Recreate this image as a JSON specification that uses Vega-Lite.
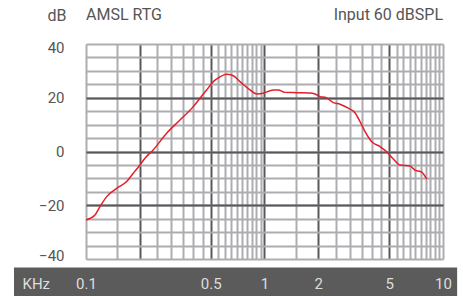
{
  "$schema": "https://vega.github.io/schema/vega-lite/v6.json",
  "width": 357,
  "height": 215,
  "autosize": "none",
  "padding": {"left": 86, "top": 44, "right": 20, "bottom": 37},
  "background": "white",
  "config": {"view": {"stroke": null}, "font": "Roboto"},
  "datasets": {
    "curve": [
      {"f": 0.1, "db": -25.5},
      {"f": 0.1123, "db": -23.6},
      {"f": 0.1198, "db": -20.5},
      {"f": 0.1306, "db": -16.8},
      {"f": 0.1486, "db": -13.7},
      {"f": 0.169, "db": -11.2},
      {"f": 0.184, "db": -8.1},
      {"f": 0.2007, "db": -5.0},
      {"f": 0.214, "db": -2.5},
      {"f": 0.238, "db": 0.6},
      {"f": 0.283, "db": 6.8},
      {"f": 0.336, "db": 11.7},
      {"f": 0.399, "db": 16.7},
      {"f": 0.435, "db": 19.8},
      {"f": 0.474, "db": 22.9},
      {"f": 0.517, "db": 26.0},
      {"f": 0.563, "db": 27.8},
      {"f": 0.614, "db": 28.7},
      {"f": 0.655, "db": 28.5},
      {"f": 0.729, "db": 26.0},
      {"f": 0.8295, "db": 22.9},
      {"f": 0.904, "db": 21.4},
      {"f": 0.985, "db": 21.7},
      {"f": 1.12, "db": 22.9},
      {"f": 1.195, "db": 22.9},
      {"f": 1.3, "db": 22.0},
      {"f": 1.514, "db": 21.9},
      {"f": 1.798, "db": 21.8},
      {"f": 1.919, "db": 21.4},
      {"f": 2.047, "db": 20.4},
      {"f": 2.183, "db": 20.2},
      {"f": 2.43, "db": 18.2},
      {"f": 2.65, "db": 17.6},
      {"f": 2.948, "db": 16.1},
      {"f": 3.21, "db": 14.4},
      {"f": 3.43, "db": 11.1},
      {"f": 3.66, "db": 7.4},
      {"f": 3.99, "db": 3.6},
      {"f": 4.44, "db": 1.8},
      {"f": 4.84, "db": -0.1},
      {"f": 5.27, "db": -2.8},
      {"f": 5.74, "db": -5.0},
      {"f": 6.53, "db": -5.4},
      {"f": 6.97, "db": -6.9},
      {"f": 7.6, "db": -7.7},
      {"f": 8.11, "db": -10.3}
    ]
  },
  "layer": [
    {
      "data": {"name": "curve"},
      "mark": {"type": "line", "opacity": 0},
      "encoding": {
        "x": {"field": "f", "type": "quantitative",
          "scale": {"type": "log", "domain": [0.1, 10], "nice": false},
          "axis": {"orient": "bottom", "values": [0.1, 0.15, 0.25, 0.3, 0.35, 0.4, 0.45, 0.55, 0.6, 0.65, 0.7, 0.75, 0.8, 0.85, 0.9, 0.95, 1.5, 2.5, 3, 3.5, 4, 4.5, 5.5, 6, 6.5, 7, 7.5, 8, 8.5, 9, 9.5, 10],
            "grid": true, "gridColor": "#adadb1", "gridWidth": 2, "gridOpacity": 1,
            "domain": false, "ticks": false, "labels": false, "title": null}},
        "y": {"field": "db", "type": "quantitative",
          "scale": {"domain": [-40, 40], "nice": false, "zero": false},
          "axis": {"orient": "left", "values": [-40, -35, -30, -25, -20, -15, -10, -5, 0, 5, 10, 15, 20, 25, 30, 35, 40],
            "grid": true, "gridColor": "#adadb1", "gridWidth": 2, "gridOpacity": 1,
            "domain": false, "ticks": false, "labels": false, "title": null}}
      }
    },
    {
      "data": {"name": "curve"},
      "mark": {"type": "line", "opacity": 0},
      "encoding": {
        "x": {"field": "f", "type": "quantitative",
          "scale": {"type": "log", "domain": [0.1, 10], "nice": false},
          "axis": {"orient": "bottom", "values": [0.2, 0.5, 1, 2, 5],
            "grid": true, "gridColor": "#58585a", "gridWidth": 2, "gridOpacity": 1,
            "domain": false, "ticks": false, "labels": false, "title": null}},
        "y": {"field": "db", "type": "quantitative",
          "scale": {"domain": [-40, 40], "nice": false, "zero": false},
          "axis": {"orient": "left", "values": [-20, 0, 20],
            "grid": true, "gridColor": "#58585a", "gridWidth": 2, "gridOpacity": 1,
            "domain": false, "ticks": false, "labels": false, "title": null}}
      }
    },
    {
      "data": {"values": [{}]},
      "mark": {"type": "rect", "color": "#5b5b5b"},
      "encoding": {
        "x": {"datum": 0.0395, "type": "quantitative",
          "scale": {"type": "log", "domain": [0.1, 10], "nice": false},
          "axis": {"orient": "bottom", "values": [0.1, 0.5, 1, 2, 5, 10], "format": "~g",
            "grid": false, "domain": false, "ticks": false, "tickSize": 0,
            "labelFlush": false, "labelPadding": 17, "labelFontSize": 15, "labelColor": "#dedede",
            "zindex": 1,
            "title": "KHz", "titleX": -64, "titleY": 29, "titleAlign": "left", "titleBaseline": "alphabetic",
            "titleFontSize": 15, "titleFontWeight": "normal", "titleColor": "#dedede"}},
        "x2": {"datum": 12},
        "y": {"datum": -43.2, "type": "quantitative",
          "scale": {"domain": [-40, 40], "nice": false, "zero": false},
          "axis": {"orient": "left", "values": [-40, -20, 0, 20, 40],
            "grid": false, "domain": false, "ticks": false, "tickSize": 0,
            "labelPadding": 22, "labelFontSize": 15, "labelColor": "#555555",
            "labelFlush": true, "labelFlushOffset": 4,
            "title": "dB", "titleAngle": 0, "titleX": -39, "titleY": -24, "titleAlign": "left", "titleBaseline": "alphabetic",
            "titleFontSize": 16, "titleFontWeight": "normal", "titleColor": "#555555"}},
        "y2": {"datum": -54}
      }
    },
    {
      "data": {"name": "curve"},
      "mark": {"type": "line", "color": "#e31e2a", "strokeWidth": 1.5, "interpolate": "monotone"},
      "encoding": {
        "x": {"field": "f", "type": "quantitative", "scale": {"type": "log", "domain": [0.1, 10], "nice": false}, "axis": null},
        "y": {"field": "db", "type": "quantitative", "scale": {"domain": [-40, 40], "nice": false, "zero": false}, "axis": null}
      }
    },
    {
      "data": {"values": [{}]},
      "mark": {"type": "text", "text": "AMSL RTG", "align": "left", "baseline": "alphabetic", "fontSize": 16, "color": "#555555"},
      "encoding": {
        "x": {"datum": 0.1, "type": "quantitative", "scale": {"type": "log", "domain": [0.1, 10], "nice": false}, "axis": null},
        "y": {"datum": 48.9, "type": "quantitative", "scale": {"domain": [-40, 40], "nice": false, "zero": false}, "axis": null}
      }
    },
    {
      "data": {"values": [{}]},
      "mark": {"type": "text", "text": "Input 60 dBSPL", "align": "right", "baseline": "alphabetic", "fontSize": 16, "color": "#555555"},
      "encoding": {
        "x": {"datum": 10, "type": "quantitative", "scale": {"type": "log", "domain": [0.1, 10], "nice": false}, "axis": null},
        "y": {"datum": 48.9, "type": "quantitative", "scale": {"domain": [-40, 40], "nice": false, "zero": false}, "axis": null}
      }
    }
  ],
  "resolve": {"axis": {"x": "independent", "y": "independent"}}
}
